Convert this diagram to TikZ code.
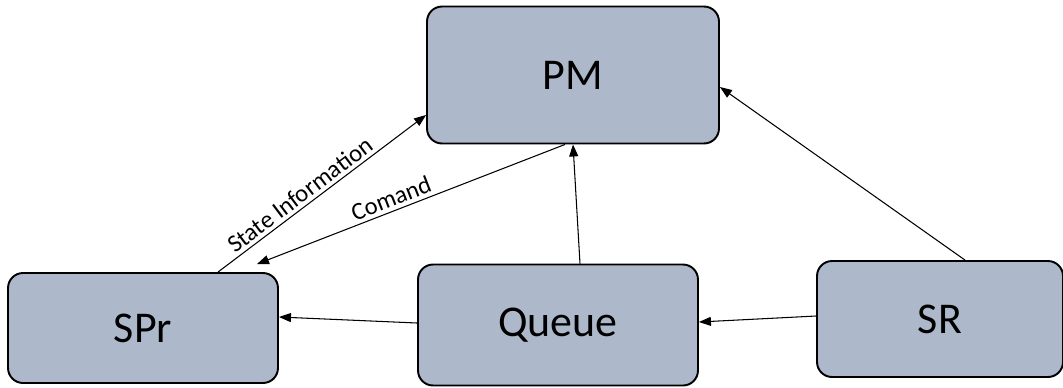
\documentclass[tikz,border=0pt]{standalone}
\usepackage{fontspec}
\setmainfont{Carlito}
\usetikzlibrary{arrows.meta}
\definecolor{boxfill}{RGB}{173,185,202}
\tikzset{
  block/.style={draw, line width=1.1pt, rounded corners=0.3cm, fill=boxfill,
    inner sep=0pt, font=\fontsize{25}{29}\selectfont},
  flow/.style={line width=0.6pt, -{Triangle[length=2.4mm,width=1.8mm]}},
  lbl/.style={font=\fontsize{14}{16}\selectfont, sloped, above, inner sep=2pt}
}
\begin{document}
\begin{tikzpicture}[x=0.02cm, y=-0.02cm]
      \useasboundingbox (0,0) rectangle (1063,387);
      \draw
        (573,75) node[block, minimum width=5.84cm, minimum height=2.74cm] (pm){PM}
        (143,328) node[block, minimum width=5.4cm, minimum height=2.2cm] (spr){SPr}
        (558,325) node[block, minimum width=5.6cm, minimum height=2.42cm] (queue){Queue}
        (940,319) node[block, minimum width=4.92cm, minimum height=2.32cm] (sr){SR};
      \begin{scope}[flow]
        \draw ([xshift=1.5cm]spr.north) to node[lbl, pos=0.43]{State Information} ([yshift=-0.8cm]pm.west);
        \draw ([xshift=-0.16cm]pm.south) to node[lbl, pos=0.55]{Comand} ([xshift=2.28cm, yshift=0.16cm]spr.north);
        \draw ([xshift=0.44cm]queue.north) to (pm.south);
        \draw ([xshift=0.5cm]sr.north) to ([yshift=-0.24cm]pm.east);
        \draw ([yshift=0.06cm]sr.west) to ([yshift=0.06cm]queue.east);
        \draw ([yshift=0.04cm]queue.west) to ([yshift=0.22cm]spr.east);
      \end{scope}
    \end{tikzpicture}
\end{document}
